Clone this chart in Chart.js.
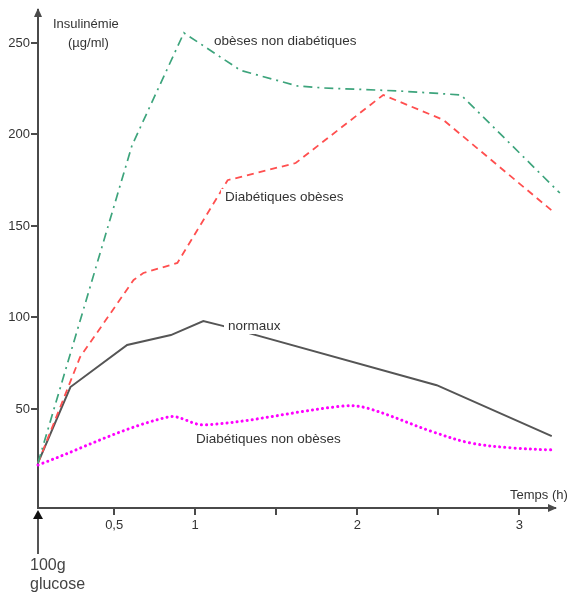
<!DOCTYPE html>
<html>
<head>
<meta charset="utf-8">
<script src="https://cdn.jsdelivr.net/npm/chart.js@4/dist/chart.umd.min.js"></script>
<style>
  body { margin: 0; background: #fff; }
  #wrap { width: 571px; height: 596px; }
</style>
</head>
<body>
<div id="wrap"><canvas id="c" width="571" height="596"></canvas></div>
<script>
// temps (h) et insulinémie (µg/ml)
const tNormaux = [0.03, 0.23, 0.58, 0.85, 1.05, 1.17, 2.49, 3.20];
const vNormaux = [20.5, 62, 85, 90.4, 98, 95.4, 63, 35.2];

const tObeses = [0.03, 0.61, 0.93, 1.28, 1.63, 1.79, 2.25, 2.64, 3.25];
const vObeses = [20.5, 194, 255.5, 235, 226.5, 225.4, 223.8, 221.6, 168];

const tDiabObeses = [0.03, 0.29, 0.62, 0.68, 0.89, 1.2, 1.62, 2.16, 2.53, 3.21];
const vDiabObeses = [20.5, 78.4, 120.5, 124.3, 129.8, 175, 184.4, 221.6, 208, 157.7];

const tDiabNonObeses = [0.03, 0.83, 1.06, 1.91, 2.06, 2.47, 2.70, 2.96, 3.21];
const vDiabNonObeses = [19.4, 45.6, 41.3, 51.6, 50.5, 37.4, 31.4, 28.7, 27.6];

const xTicks = [0.5, 1, 1.5, 2, 2.5, 3];
const xTickLabels = ['0,5', '1', '', '2', '', '3'];
const yTicks = [50, 100, 150, 200, 250];

const FONT = '"Liberation Sans", Arial, sans-serif';
const AXIS = '#4a4a4a';
const TXT = '#333333';

function pts(t, v) {
  return t.map((x, i) => ({ x: x, y: v[i] }));
}

// étiquettes posées sur les courbes
const curveLabels = [
  { text: 'obèses non diabétiques', x: 214, y: 41 },
  { text: 'Diabétiques obèses', x: 225, y: 197 },
  { text: 'normaux', x: 228, y: 326 },
  { text: 'Diabétiques non obèses', x: 196, y: 439 }
];

const decor = {
  id: 'decor',
  afterDatasetsDraw(chart) {
    const ctx = chart.ctx;
    const a = chart.chartArea;
    ctx.save();

    // fleche axe Y
    ctx.fillStyle = AXIS;
    ctx.beginPath();
    ctx.moveTo(a.left, a.top - 2);
    ctx.lineTo(a.left - 4, a.top + 7);
    ctx.lineTo(a.left + 4, a.top + 7);
    ctx.closePath();
    ctx.fill();

    // fleche axe X
    ctx.beginPath();
    ctx.moveTo(a.right + 2, a.bottom);
    ctx.lineTo(a.right - 7, a.bottom - 4);
    ctx.lineTo(a.right - 7, a.bottom + 4);
    ctx.closePath();
    ctx.fill();

    // 100g glucose
    ctx.strokeStyle = '#555';
    ctx.lineWidth = 2;
    ctx.beginPath();
    ctx.moveTo(a.left, a.bottom + 10);
    ctx.lineTo(a.left, a.bottom + 46);
    ctx.stroke();
    ctx.fillStyle = '#111';
    ctx.beginPath();
    ctx.moveTo(a.left, a.bottom + 2);
    ctx.lineTo(a.left - 5, a.bottom + 11);
    ctx.lineTo(a.left + 5, a.bottom + 11);
    ctx.closePath();
    ctx.fill();

    ctx.fillStyle = '#444';
    ctx.textBaseline = 'middle';
    ctx.textAlign = 'left';
    ctx.font = '16px ' + FONT;
    ctx.fillText('100g', 30, 566);
    ctx.fillText('glucose', 30, 585);

    ctx.fillStyle = TXT;
    ctx.font = '13px ' + FONT;
    ctx.fillText('Insulinémie', 53, 24);
    ctx.fillText('(µg/ml)', 68, 43);
    ctx.fillText('Temps (h)', 510, 495);

    ctx.font = '13.5px ' + FONT;
    curveLabels.forEach(l => {
      const w = ctx.measureText(l.text).width;
      ctx.fillStyle = '#fff';
      ctx.fillRect(l.x - 4, l.y - 8, w + 6, 16);
      ctx.fillStyle = TXT;
      ctx.fillText(l.text, l.x, l.y);
    });

    ctx.restore();
  }
};

new Chart(document.getElementById('c'), {
  type: 'line',
  data: {
    datasets: [
      {
        label: 'obèses non diabétiques',
        data: pts(tObeses, vObeses),
        borderColor: '#3da47c',
        borderWidth: 1.7,
        borderDash: [9, 5, 2, 5],
        tension: 0,
        clip: false
      },
      {
        label: 'Diabétiques obèses',
        data: pts(tDiabObeses, vDiabObeses),
        borderColor: '#ff4f4f',
        borderWidth: 1.8,
        borderDash: [7, 5],
        tension: 0,
        clip: false
      },
      {
        label: 'normaux',
        data: pts(tNormaux, vNormaux),
        borderColor: '#555555',
        borderWidth: 2,
        tension: 0,
        clip: false
      },
      {
        label: 'Diabétiques non obèses',
        data: pts(tDiabNonObeses, vDiabNonObeses),
        borderColor: '#ff00ff',
        borderWidth: 3,
        borderDash: [0.1, 5],
        borderCapStyle: 'round',
        tension: 0.35,
        clip: false
      }
    ]
  },
  options: {
    responsive: false,
    animation: false,
    events: [],
    layout: { padding: { top: 10, right: 16, left: 0, bottom: 0 } },
    elements: { point: { radius: 0 } },
    plugins: {
      legend: { display: false },
      tooltip: { enabled: false }
    },
    scales: {
      x: {
        type: 'linear',
        min: 0.03,
        max: 3.22,
        afterFit: s => { s.height = 88; },
        afterBuildTicks: s => { s.ticks = xTicks.map(v => ({ value: v })); },
        border: { display: true, color: AXIS, width: 2 },
        grid: { drawOnChartArea: false, drawTicks: true, tickLength: 7, color: AXIS, lineWidth: 2 },
        ticks: {
          padding: 3,
          color: TXT,
          font: { family: FONT, size: 13 },
          maxRotation: 0,
          callback: v => xTickLabels[xTicks.indexOf(v)]
        }
      },
      y: {
        min: -4.1,
        max: 268,
        afterFit: s => { s.width = 38; },
        afterBuildTicks: s => { s.ticks = yTicks.map(v => ({ value: v })); },
        border: { display: true, color: AXIS, width: 2 },
        grid: { drawOnChartArea: false, drawTicks: true, tickLength: 7, color: AXIS, lineWidth: 2 },
        ticks: {
          padding: 1,
          color: TXT,
          font: { family: FONT, size: 13 }
        }
      }
    }
  },
  plugins: [decor]
});
</script>
</body>
</html>
